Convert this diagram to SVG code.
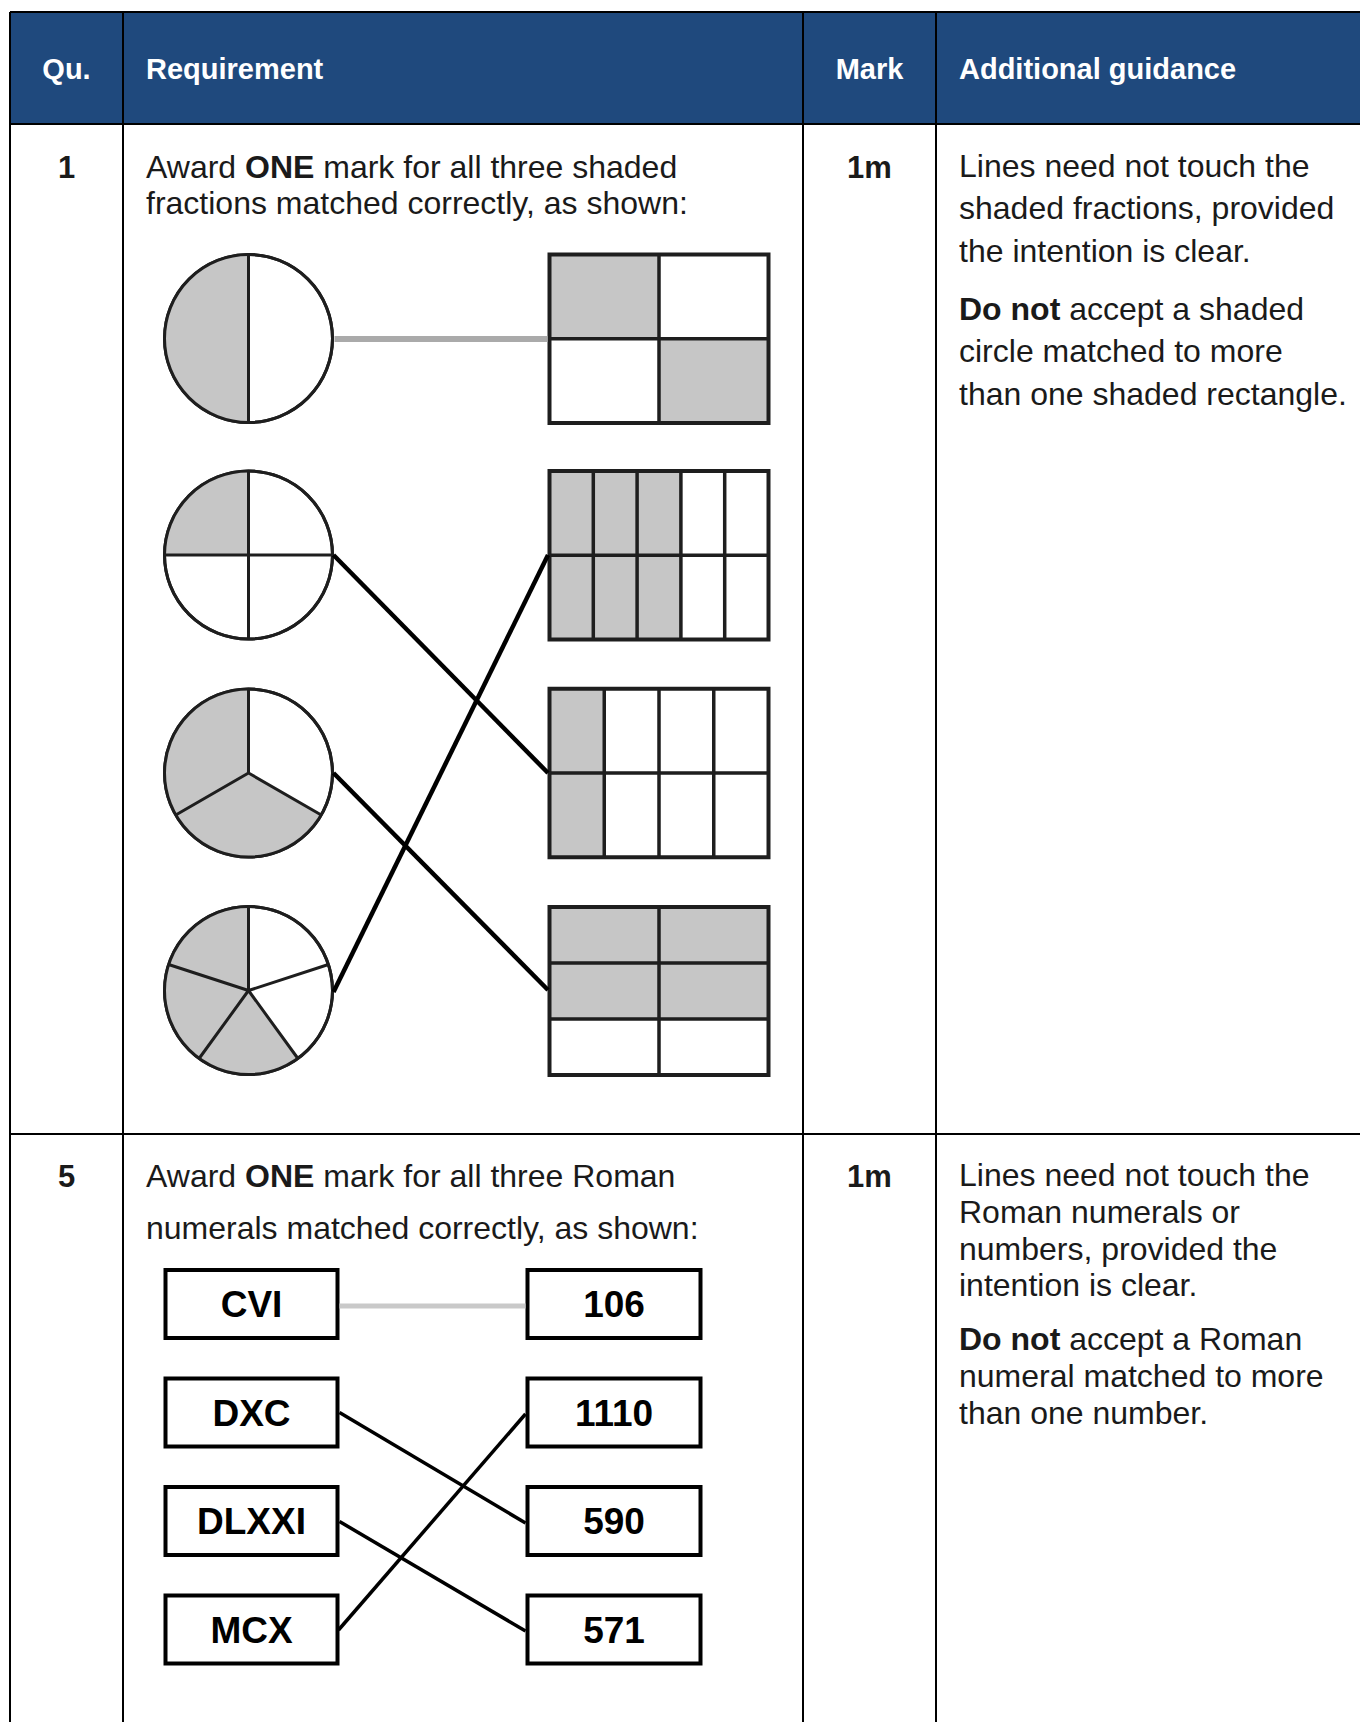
<svg xmlns="http://www.w3.org/2000/svg" width="1360" height="1722" viewBox="0 0 1360 1722">
<defs>
<style>
text{font-family:"Liberation Sans",Arial,sans-serif;fill:#1a1a1a}
.hd{font-size:29px;font-weight:bold;fill:#ffffff}
.b{font-size:32px}
.bb{font-size:31px;font-weight:bold}
.c{text-anchor:middle}
.grid{stroke:#000;stroke-width:2;fill:none}
.circ{fill:#fff;stroke:#1e1e1e;stroke-width:3}
.cl{stroke:#1e1e1e;stroke-width:3;fill:none}
.sh{fill:#c6c6c6;stroke:none}
.rect{fill:none;stroke:#1e1e1e;stroke-width:4}
.rl{stroke:#1e1e1e;stroke-width:3.5}
.box{fill:#fff;stroke:#000;stroke-width:4}
.bt{font-size:37px;font-weight:bold;text-anchor:middle;fill:#000}
.con{stroke:#000;fill:none}
</style>
</defs>
<rect width="1360" height="1722" fill="#fff"/>
<g id="table">
<rect x="10" y="12" width="1350" height="112" fill="#1F497D"/>
<line class="grid" x1="10" y1="12" x2="1360" y2="12"/>
<line class="grid" x1="10" y1="124" x2="1360" y2="124"/>
<line class="grid" x1="10" y1="1134" x2="1360" y2="1134"/>
<line class="grid" x1="10" y1="12" x2="10" y2="1722"/>
<line class="grid" x1="123" y1="12" x2="123" y2="1722"/>
<line class="grid" x1="803" y1="12" x2="803" y2="1722"/>
<line class="grid" x1="936" y1="12" x2="936" y2="1722"/>
<text class="hd c" x="66.5" y="78.5">Qu.</text>
<text class="hd" x="146" y="78.5">Requirement</text>
<text class="hd c" x="869.5" y="78.5">Mark</text>
<text class="hd" x="959" y="78.5">Additional guidance</text>
</g>
<g id="row1-text">
<text class="bb c" x="66.5" y="178">1</text>
<text class="b" x="146" y="178">Award <tspan font-weight="bold">ONE</tspan> mark for all three shaded</text>
<text class="b" x="146" y="213.5">fractions matched correctly, as shown:</text>
<text class="bb c" x="869.5" y="178">1m</text>
<text class="b" x="959" y="177">Lines need not touch the</text>
<text class="b" x="959" y="218.5">shaded fractions, provided</text>
<text class="b" x="959" y="261.5">the intention is clear.</text>
<text class="b" x="959" y="320"><tspan font-weight="bold">Do not</tspan> accept a shaded</text>
<text class="b" x="959" y="362">circle matched to more</text>
<text class="b" x="959" y="405">than one shaded rectangle.</text>
</g>
<g id="circle1">
<circle class="circ" cx="248.5" cy="338.5" r="84"/>
<path class="sh" d="M248.5,254.5 A84,84 0 0 0 248.5,422.5 Z"/>
<circle cx="248.5" cy="338.5" r="84" fill="none" stroke="#1e1e1e" stroke-width="3"/>
<line class="cl" x1="248.5" y1="254.5" x2="248.5" y2="422.5"/>
</g>
<g id="circle2">
<circle class="circ" cx="248.5" cy="555" r="84"/>
<path class="sh" d="M248.5,555 L164.5,555 A84,84 0 0 1 248.5,471 Z"/>
<circle cx="248.5" cy="555" r="84" fill="none" stroke="#1e1e1e" stroke-width="3"/>
<line class="cl" x1="248.5" y1="471" x2="248.5" y2="639"/>
<line class="cl" x1="164.5" y1="555" x2="332.5" y2="555"/>
</g>
<g id="circle3">
<circle class="circ" cx="248.5" cy="773" r="84"/>
<path class="sh" d="M248.5,773 L248.5,689 A84,84 0 1 0 321.25,815 Z"/>
<circle cx="248.5" cy="773" r="84" fill="none" stroke="#1e1e1e" stroke-width="3"/>
<path class="cl" d="M248.5,689 L248.5,773 L321.25,815 M248.5,773 L175.75,815"/>
</g>
<g id="circle4">
<circle class="circ" cx="248.5" cy="990.5" r="84"/>
<path class="sh" d="M248.5,990.5 L297.9,1058.5 A84,84 0 0 1 168.6,964.5 A84,84 0 0 1 248.5,906.5 Z"/>
<circle cx="248.5" cy="990.5" r="84" fill="none" stroke="#1e1e1e" stroke-width="3"/>
<path class="cl" d="M248.5,906.5 L248.5,990.5 M248.5,990.5 L328.4,964.5 M248.5,990.5 L297.9,1058.5 M248.5,990.5 L199.1,1058.5 M248.5,990.5 L168.6,964.5"/>
</g>
<g id="rect1">
<rect x="549.5" y="254.5" width="219" height="168.5" fill="#fff"/>
<rect class="sh" x="549.5" y="254.5" width="109.5" height="84.25"/>
<rect class="sh" x="659" y="338.75" width="109.5" height="84.25"/>
<line class="rl" x1="659" y1="254.5" x2="659" y2="423"/>
<line class="rl" x1="549.5" y1="338.75" x2="768.5" y2="338.75"/>
<rect class="rect" x="549.5" y="254.5" width="219" height="168.5"/>
</g>
<g id="rect2">
<rect x="549.5" y="471" width="219" height="168.5" fill="#fff"/>
<rect class="sh" x="549.5" y="471" width="131.4" height="168.5"/>
<path class="rl" d="M593.3,471 V639.5 M637.1,471 V639.5 M680.9,471 V639.5 M724.7,471 V639.5 M549.5,555.25 H768.5"/>
<rect class="rect" x="549.5" y="471" width="219" height="168.5"/>
</g>
<g id="rect3">
<rect x="549.5" y="688.75" width="219" height="168.5" fill="#fff"/>
<rect class="sh" x="549.5" y="688.75" width="54.75" height="168.5"/>
<path class="rl" d="M604.25,688.75 V857.25 M659,688.75 V857.25 M713.75,688.75 V857.25 M549.5,773 H768.5"/>
<rect class="rect" x="549.5" y="688.75" width="219" height="168.5"/>
</g>
<g id="rect4">
<rect x="549.5" y="907" width="219" height="168" fill="#fff"/>
<rect class="sh" x="549.5" y="907" width="219" height="112"/>
<path class="rl" d="M659,907 V1075 M549.5,963 H768.5 M549.5,1019 H768.5"/>
<rect class="rect" x="549.5" y="907" width="219" height="168"/>
</g>
<g id="row2-text">
<text class="bb c" x="66.5" y="1187">5</text>
<text class="b" x="146" y="1187">Award <tspan font-weight="bold">ONE</tspan> mark for all three Roman</text>
<text class="b" x="146" y="1239">numerals matched correctly, as shown:</text>
<text class="bb c" x="869.5" y="1187">1m</text>
<text class="b" x="959" y="1186">Lines need not touch the</text>
<text class="b" x="959" y="1222.5">Roman numerals or</text>
<text class="b" x="959" y="1259.5">numbers, provided the</text>
<text class="b" x="959" y="1296">intention is clear.</text>
<text class="b" x="959" y="1350"><tspan font-weight="bold">Do not</tspan> accept a Roman</text>
<text class="b" x="959" y="1387">numeral matched to more</text>
<text class="b" x="959" y="1423.5">than one number.</text>
</g>
<g id="box-cvi"><rect class="box" x="165.5" y="1270" width="172" height="68"/><text class="bt" x="251.5" y="1317.3">CVI</text></g>
<g id="box-dxc"><rect class="box" x="165.5" y="1378.5" width="172" height="68"/><text class="bt" x="251.5" y="1425.8">DXC</text></g>
<g id="box-dlxxi"><rect class="box" x="165.5" y="1487" width="172" height="68"/><text class="bt" x="251.5" y="1534.3">DLXXI</text></g>
<g id="box-mcx"><rect class="box" x="165.5" y="1595.5" width="172" height="68"/><text class="bt" x="251.5" y="1642.8">MCX</text></g>
<g id="box-106"><rect class="box" x="527.5" y="1270" width="173" height="68"/><text class="bt" x="614" y="1317.3">106</text></g>
<g id="box-1110"><rect class="box" x="527.5" y="1378.5" width="173" height="68"/><text class="bt" x="614" y="1425.8">1110</text></g>
<g id="box-590"><rect class="box" x="527.5" y="1487" width="173" height="68"/><text class="bt" x="614" y="1534.3">590</text></g>
<g id="box-571"><rect class="box" x="527.5" y="1595.5" width="173" height="68"/><text class="bt" x="614" y="1642.8">571</text></g>
<g id="connectors">
<line x1="334.5" y1="339" x2="547.5" y2="339" stroke="#aaaaaa" stroke-width="6"/>
<line class="con" x1="333.5" y1="555" x2="548" y2="773" stroke-width="4.5"/>
<line class="con" x1="333.5" y1="773" x2="548" y2="990" stroke-width="4.5"/>
<line class="con" x1="548" y1="555" x2="333.5" y2="992" stroke-width="4.5"/>
<line x1="339.5" y1="1306" x2="525.5" y2="1306" stroke="#c9c9c9" stroke-width="5"/>
<line class="con" x1="339.5" y1="1412.5" x2="525.5" y2="1523" stroke-width="3.5"/>
<line class="con" x1="339.5" y1="1521.5" x2="525.5" y2="1631" stroke-width="3.5"/>
<line class="con" x1="338.5" y1="1630" x2="525.5" y2="1414" stroke-width="3.5"/>
</g>
</svg>
